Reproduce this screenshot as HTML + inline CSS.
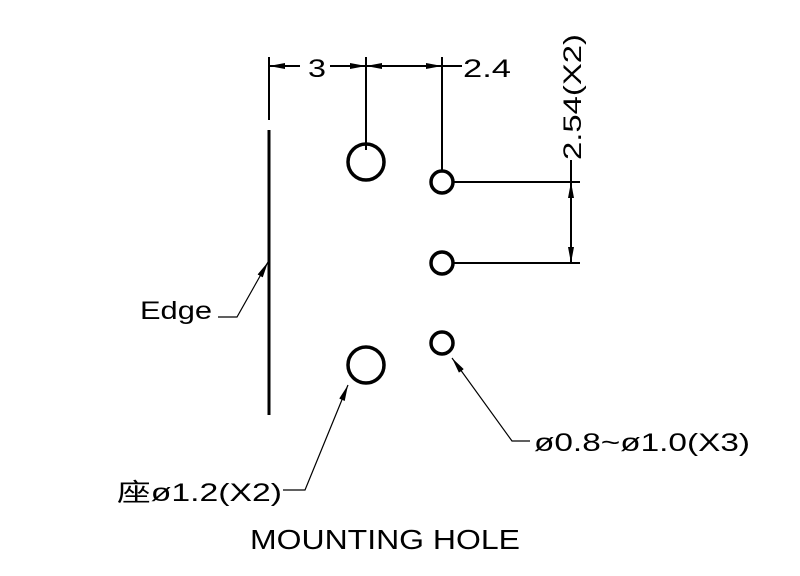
<!DOCTYPE html>
<html><head><style>body{margin:0;background:#fff}svg{display:block}text{font-family:"Liberation Sans","Noto Sans CJK SC",sans-serif;fill:#000}</style></head>
<body><svg width="800" height="576" viewBox="0 0 800 576">
<defs><marker id="a" markerWidth="16" markerHeight="6" refX="16" refY="3" orient="auto" markerUnits="userSpaceOnUse"><path d="M0,0 L16,3 L0,6z" fill="#000"/></marker></defs>
<g stroke="#000" fill="none">
<line x1="269" y1="57" x2="269" y2="120" stroke-width="2"/>
<line x1="269" y1="130" x2="269" y2="415" stroke-width="3"/>
<line x1="366" y1="57" x2="366" y2="150" stroke-width="2"/>
<line x1="442" y1="57" x2="442" y2="170" stroke-width="2"/>
<line x1="300" y1="66" x2="269" y2="66" stroke-width="2" marker-end="url(#a)"/>
<line x1="330" y1="66" x2="366" y2="66" stroke-width="2" marker-end="url(#a)"/>
<line x1="404" y1="66" x2="366" y2="66" stroke-width="2" marker-end="url(#a)"/>
<line x1="404" y1="66" x2="442" y2="66" stroke-width="2" marker-end="url(#a)"/>
<line x1="442" y1="66" x2="462" y2="66" stroke-width="2"/>
<circle cx="366" cy="162" r="18" stroke-width="3.5"/>
<circle cx="366" cy="365" r="18" stroke-width="3.5"/>
<circle cx="442" cy="182" r="11" stroke-width="3.5"/>
<circle cx="442" cy="263" r="11" stroke-width="3.5"/>
<circle cx="442" cy="343" r="11" stroke-width="3.5"/>
<line x1="453" y1="182" x2="580" y2="182" stroke-width="2"/>
<line x1="453" y1="263" x2="580" y2="263" stroke-width="2"/>
<line x1="571" y1="222" x2="571" y2="182" stroke-width="2" marker-end="url(#a)"/>
<line x1="571" y1="222" x2="571" y2="263" stroke-width="2" marker-end="url(#a)"/>
<line x1="571" y1="182" x2="571" y2="160" stroke-width="2"/>
<polyline points="218,317 237,317 268,262" stroke-width="1.2" marker-end="url(#a)"/>
<polyline points="283,490 305,490 348,385" stroke-width="1.2" marker-end="url(#a)"/>
<polyline points="530,441 512,441 452,358" stroke-width="1.2" marker-end="url(#a)"/>
</g>
<text x="308" y="77" font-size="25" textLength="18" lengthAdjust="spacingAndGlyphs">3</text>
<text x="463" y="77" font-size="25" textLength="48" lengthAdjust="spacingAndGlyphs">2.4</text>
<text transform="translate(581,160) rotate(-90)" font-size="25" textLength="126" lengthAdjust="spacingAndGlyphs">2.54(X2)</text>
<text x="140" y="319" font-size="25" textLength="72" lengthAdjust="spacingAndGlyphs">Edge</text>
<text x="117" y="501" font-size="25" textLength="165" lengthAdjust="spacingAndGlyphs">座ø1.2(X2)</text>
<text x="534" y="451" font-size="25" textLength="216" lengthAdjust="spacingAndGlyphs">ø0.8~ø1.0(X3)</text>
<text x="250" y="549" font-size="28" textLength="270" lengthAdjust="spacingAndGlyphs">MOUNTING HOLE</text>
</svg></body></html>
